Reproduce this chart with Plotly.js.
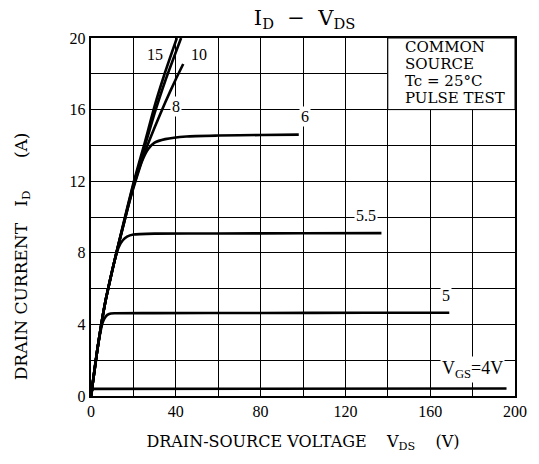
<!DOCTYPE html>
<html>
<head>
<meta charset="utf-8">
<script src="https://cdn.plot.ly/plotly-3.0.1.min.js"></script>
<style>html,body{margin:0;padding:0;background:#fff;}#chart{width:539px;height:464px;}</style>
</head>
<body>
<div id="chart"></div>
<script>
// Drain-source voltage (V) and drain current (A) per gate voltage curve
const v15 = [0, 3, 5, 7, 10, 12, 15, 20, 25, 30, 35, 40.5];
const i15 = [0, 2.6, 4.1, 5.4, 7.0, 8.0, 9.5, 11.9, 14.0, 16.2, 18.1, 20];
const v10 = [0, 3, 5, 7, 10, 12, 15, 20, 25, 30, 35, 42.5];
const i10 = [0, 2.6, 4.1, 5.4, 7.0, 8.0, 9.45, 11.8, 13.8, 15.8, 17.6, 20];
const v8 = [0, 3, 5, 7, 10, 12, 15, 20, 25, 30, 35, 40, 43.5];
const i8 = [0, 2.6, 4.1, 5.4, 7.0, 8.0, 9.4, 11.7, 13.5, 15.0, 16.4, 17.7, 18.55];
const v6 = [0, 3, 5, 7, 10, 12, 15, 18, 21, 24, 27, 30, 35, 45, 60, 80, 98];
const i6 = [0, 2.6, 4.1, 5.4, 7.0, 8.0, 9.4, 10.8, 12.0, 13.1, 13.8, 14.15, 14.35, 14.5, 14.55, 14.58, 14.6];
const v55 = [0, 3, 5, 7, 9, 11, 13, 15, 17, 20, 30, 60, 100, 137];
const i55 = [0, 2.6, 4.1, 5.4, 6.5, 7.5, 8.3, 8.7, 8.9, 9.02, 9.07, 9.08, 9.09, 9.1];
const v5 = [0, 2, 4, 5.5, 7, 8.5, 11, 30, 80, 130, 169];
const i5 = [0, 1.8, 3.3, 4.1, 4.45, 4.58, 4.62, 4.63, 4.64, 4.65, 4.65];
const v4 = [0, 0.5, 1.2, 196];
const i4 = [0, 0.3, 0.4, 0.42];

const xTicks = [0, 40, 80, 120, 160, 200];
const yTicks = [0, 4, 8, 12, 16, 20];

const curveLabels = ['15', '10', '8', '6', '5.5', '5', 'V<sub>GS</sub>=4V'];
const labelV = [30.2, 50.9, 40.1, 101, 129.5, 167.5, 180];
const labelI = [19.1, 19.1, 16.2, 15.6, 10.1, 5.6, 1.5];

const conditionLines = ['COMMON', 'SOURCE', 'Tc = 25°C', 'PULSE TEST'];
const conditionI = [19.5, 18.55, 17.6, 16.65];

const serif = "'DejaVu Serif', 'Liberation Serif', serif";
const serif2 = "'Liberation Serif', 'DejaVu Serif', serif";

const series = [[v15, i15], [v10, i10], [v8, i8], [v6, i6], [v55, i55], [v5, i5], [v4, i4]];
const traces = series.map((s, k) => ({
  x: s[0], y: s[1], type: 'scatter', mode: 'lines',
  line: {color: '#000', width: 2.6, shape: k === 6 ? 'linear' : 'spline', smoothing: 0.5},
  hoverinfo: 'skip', showlegend: false
}));

const annotations = curveLabels.map((t, k) => ({
  x: labelV[k], y: labelI[k], xref: 'x', yref: 'y', text: t, showarrow: false,
  font: {family: serif2, size: k === 6 ? 18 : 16, color: '#000'}, bgcolor: '#fff', borderpad: 1
}));
conditionLines.forEach((t, k) => annotations.push({
  x: 147, y: conditionI[k], xref: 'x', yref: 'y', xanchor: 'left', text: t, showarrow: false,
  font: {family: serif, size: 15, color: '#000'}
}));
annotations.push({
  x: -0.163, y: 0.39, xref: 'paper', yref: 'paper', xanchor: 'center', yanchor: 'middle',
  textangle: -90, showarrow: false,
  text: 'DRAIN CURRENT   I<sub>D</sub>      (A)',
  font: {family: serif, size: 17, color: '#000'}
});

const axisCommon = {
  showline: true, linecolor: '#000', linewidth: 2.2, mirror: true,
  showgrid: true, gridcolor: '#000', gridwidth: 1,
  ticks: '', zeroline: false,
  tickfont: {family: serif2, size: 16, color: '#000'}
};

const layout = {
  width: 539, height: 464,
  margin: {l: 91, r: 24, t: 38, b: 68},
  paper_bgcolor: '#fff', plot_bgcolor: '#fff',
  title: {text: 'I<sub>D</sub>  −  V<sub>DS</sub>', x: 0.565, xanchor: 'center', y: 0.962, yanchor: 'middle',
          font: {family: serif, size: 21, color: '#000'}},
  xaxis: Object.assign({}, axisCommon, {
    range: [0, 200], tickvals: xTicks, ticktext: xTicks.map(String),
    minor: {showgrid: true, gridcolor: '#000', gridwidth: 1, dtick: 20, tick0: 0},
    title: {text: 'DRAIN-SOURCE VOLTAGE    V<sub>DS</sub>    (V)', standoff: 16,
            font: {family: serif, size: 16, color: '#000'}}
  }),
  yaxis: Object.assign({}, axisCommon, {
    range: [0, 20], tickvals: yTicks, ticktext: yTicks.map(String),
    minor: {showgrid: true, gridcolor: '#000', gridwidth: 1, dtick: 2, tick0: 0}
  }),
  shapes: [{
    type: 'rect', xref: 'x', yref: 'y', x0: 140, x1: 200, y0: 16, y1: 20,
    fillcolor: '#fff', line: {color: '#000', width: 1}, layer: 'between'
  }],
  annotations: annotations
};

Plotly.newPlot('chart', traces, layout, {staticPlot: true, displayModeBar: false});
</script>
</body>
</html>
